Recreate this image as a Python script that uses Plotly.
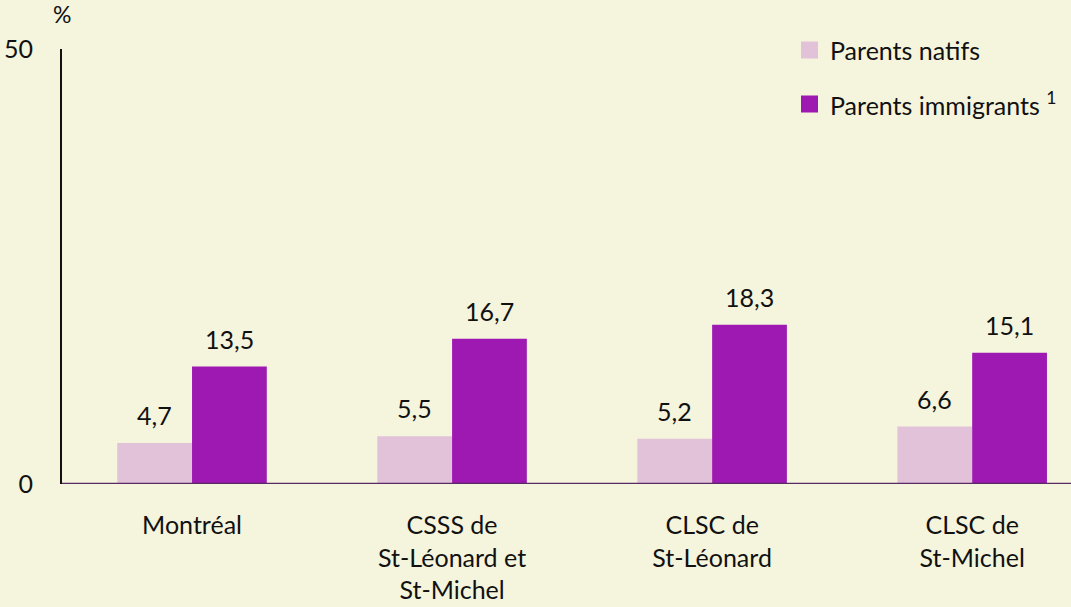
import plotly.graph_objects as go

categories = ["Montréal", "CSSS de<br>St-Léonard et<br>St-Michel", "CLSC de<br>St-Léonard", "CLSC de<br>St-Michel"]
natifs = [4.7, 5.5, 5.2, 6.6]
immigrants = [13.5, 16.7, 18.3, 15.1]
series_names = ["Parents natifs", "Parents immigrants <sup>1</sup>"]
y_ticks = [0, 50]

def fmt(v):
    return f"{v:.1f}".replace(".", ",")

FONT = "Lato"
FS = 25
BG = "#F5F4DD"
COLORS = ["#E1C2D8", "#9E19B2"]
BARGAP = 0.425
BW = (1 - BARGAP) / 2

fig = go.Figure()
for name, vals, col in zip(series_names, [natifs, immigrants], COLORS):
    fig.add_trace(go.Bar(
        x=categories, y=vals, name=name,
        marker=dict(color=col, line=dict(width=0)),
        showlegend=False, hoverinfo="skip",
    ))

annotations = []
for k, vals in enumerate([natifs, immigrants]):
    off = (k - 0.5) * BW
    for i, v in enumerate(vals):
        annotations.append(dict(
            x=i + off, y=v, xref="x", yref="y", text=fmt(v),
            showarrow=False, yanchor="bottom", xanchor="center", yshift=11,
            font=dict(size=FS, family=FONT, color="#111111"),
        ))

# y-axis unit
annotations.append(dict(text="%", xref="paper", yref="paper", x=0, y=1.0,
                        yshift=19, xanchor="center", yanchor="bottom",
                        showarrow=False, font=dict(size=FS - 2, family=FONT, color="#111111")))

# manual legend
PL, PW = 62, 1071 - 62
PT, PH = 49, 435
def px(x):
    return (x - PL) / PW
def py(y):
    return (PT + PH - y) / PH

shapes = [dict(type="line", xref="paper", yref="y", x0=0, x1=1, y0=0, y1=0,
               line=dict(color="#5A2A66", width=2.5))]
leg_y = [50, 104]
for name, col, yc in zip(series_names, COLORS, leg_y):
    shapes.append(dict(type="rect", xref="paper", yref="paper",
                       x0=px(801), x1=px(818), y0=py(yc - 8.5), y1=py(yc + 8.5),
                       fillcolor=col, line=dict(width=0)))
    annotations.append(dict(text=name, xref="paper", yref="paper", x=px(828), y=py(yc),
                            xanchor="left", yanchor="middle", showarrow=False,
                            font=dict(size=FS, family=FONT, color="#111111")))

fig.update_layout(
    width=1071, height=607,
    paper_bgcolor=BG, plot_bgcolor=BG,
    margin=dict(l=PL, r=0, t=PT, b=607 - PT - PH),
    barmode="group", bargap=BARGAP, bargroupgap=0,
    font=dict(family=FONT, size=FS, color="#111111"),
    showlegend=False,
    xaxis=dict(
        range=[-0.5, 3.38], showgrid=False, zeroline=False,
        showline=False, ticks="", tickfont=dict(size=FS, family=FONT),
        ticklabelstandoff=24,
    ),
    yaxis=dict(
        range=[0, 50], tickvals=y_ticks, ticktext=[str(v) for v in y_ticks],
        showgrid=False, zeroline=False, showline=True, linecolor="#111111",
        linewidth=2, ticks="", tickfont=dict(size=FS, family=FONT),
        ticklabelstandoff=22,
    ),
    shapes=shapes,
    annotations=annotations,
)

fig.write_html("out.html", config={"displayModeBar": False},
               post_script="document.body.style.margin='0';document.body.style.background='" + BG + "';")
